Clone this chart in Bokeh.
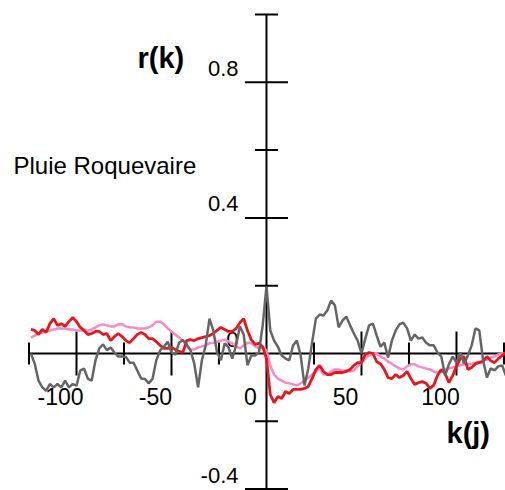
import numpy as np
from bokeh.plotting import figure
from bokeh.models import Range1d, Label
from bokeh.core.properties import value
from bokeh.embed import file_html
from bokeh.resources import INLINE

# ---- data ----
lags = list(range(-124, 127, 2))

gray_r = [0.00, -0.03, -0.08, -0.10, -0.11, -0.09, -0.10, -0.09, -0.10, -0.08,
          -0.10, -0.09, -0.095, -0.05, -0.045, -0.075, -0.08, -0.02, 0.015, 0.027,
          0.01, 0.018, 0.003, -0.009, -0.009, -0.01, -0.027, -0.027, -0.05, -0.074,
          -0.075, -0.088, -0.075, -0.02, 0.009, 0.02, 0.035, 0.003, -0.003, 0.032,
          0.04, 0.027, 0.009, -0.03, -0.10, -0.02, 0.024, 0.103, 0.068, 0.003,
          -0.02, 0.03, 0.018, -0.015, 0.024, 0.08, 0.056, -0.035, -0.006, -0.006,
          0.003, 0.083, 0.198, 0.068, 0.038, 0.02, -0.006, -0.015, -0.02, 0.024,
          0.038, -0.006, -0.094, -0.044, 0.032, 0.103, 0.115, 0.112, 0.127, 0.156,
          0.142, 0.077, 0.097, 0.109, 0.083, 0.059, 0.038, 0.00, 0.044, 0.083,
          0.088, 0.053, 0.02, 0.032, -0.012, 0.038, 0.068, 0.086, 0.091, 0.074,
          0.038, 0.056, 0.044, 0.047, 0.032, 0.024, 0.024, 0.003, -0.009, -0.065,
          -0.032, -0.009, -0.027, 0.003, -0.03, -0.006, 0.024, 0.074, 0.068, -0.02,
          -0.071, -0.044, -0.05, -0.038, -0.035, -0.065]

red_r = [0.071, 0.068, 0.056, 0.071, 0.062, 0.088, 0.103, 0.083, 0.088, 0.08,
         0.094, 0.106, 0.094, 0.077, 0.068, 0.056, 0.059, 0.065, 0.065, 0.056,
         0.059, 0.038, 0.05, 0.059, 0.05, 0.038, 0.032, 0.044, 0.056, 0.062,
         0.056, 0.044, 0.044, 0.035, 0.024, 0.015, 0.015, 0.018, 0.012, 0.006,
         0.003, 0.038, 0.041, 0.038, 0.044, 0.047, 0.05, 0.053, 0.059, 0.068,
         0.077, 0.071, 0.065, 0.065, 0.074, 0.091, 0.103, 0.068, 0.041, 0.027,
         0.03, 0.02, -0.015, -0.121, -0.145, -0.127, -0.133, -0.112, -0.118, -0.106,
         -0.106, -0.106, -0.103, -0.097, -0.074, -0.047, -0.035, -0.053, -0.062, -0.062,
         -0.056, -0.056, -0.056, -0.053, -0.047, -0.035, -0.027, -0.027, -0.003, 0.003,
         0.0, -0.024, -0.03, -0.047, -0.071, -0.074, -0.062, -0.071, -0.065, -0.053,
         -0.074, -0.091, -0.086, -0.083, -0.088, -0.103, -0.094, -0.065, -0.047, -0.059,
         -0.086, -0.065, -0.038, -0.015, -0.009, -0.047, -0.041, -0.03, -0.027, -0.024,
         -0.009, -0.021, -0.027, -0.015, -0.006, 0.003]

pink_r = [0.047, 0.053, 0.059, 0.062, 0.065, 0.068, 0.071, 0.074, 0.074, 0.074,
          0.071, 0.071, 0.068, 0.068, 0.068, 0.068, 0.071, 0.077, 0.083, 0.086,
          0.083, 0.08, 0.08, 0.086, 0.086, 0.08, 0.077, 0.077, 0.074, 0.074,
          0.074, 0.077, 0.083, 0.094, 0.094, 0.086, 0.074, 0.065, 0.056, 0.047,
          0.038, 0.021, 0.012, 0.012, 0.018, 0.021, 0.024, 0.03, 0.032, 0.035,
          0.038, 0.041, 0.035, 0.03, 0.021, 0.015, 0.024, 0.032, 0.03, 0.021,
          0.015, 0.018, 0.009, -0.035, -0.062, -0.074, -0.08, -0.086, -0.088, -0.091,
          -0.094, -0.088, -0.08, -0.071, -0.062, -0.053, -0.044, -0.062, -0.062, -0.053,
          -0.047, -0.047, -0.05, -0.05, -0.053, -0.05, -0.038, -0.027, -0.015, -0.006,
          0.0, 0.0, -0.009, -0.015, -0.024, -0.03, -0.038, -0.044, -0.047, -0.038,
          -0.032, -0.032, -0.038, -0.041, -0.044, -0.047, -0.053, -0.056, -0.053, -0.047,
          -0.044, -0.041, -0.038, -0.035, -0.032, -0.032, -0.03, -0.027, -0.024, -0.021,
          -0.018, -0.012, -0.009, -0.003, 0.0, 0.0]

x_major_ticks = [-100, -50, 50, 100]
x_minor_ticks = [-125, -75, -25, 25, 75, 125]
x_tick_labels = [-100, -50, 0, 50, 100]
y_major_ticks = [0.8, 0.4, -0.4]
y_minor_ticks = [1.0, 0.6, 0.2, -0.2]
y_tick_labels = [0.8, 0.4, 0, -0.4]

FONT = "Liberation Sans"

# pixel mapping of the reference: x = 266 + 1.9*lag, y = 353 - 339*r
p = figure(width=505, height=490, output_backend="svg", toolbar_location=None,
           x_range=Range1d(-140.0, 125.8), y_range=Range1d(-0.4041, 1.0413),
           x_axis_type=None, y_axis_type=None, min_border=0)
p.outline_line_color = None
p.xgrid.visible = False
p.ygrid.visible = False
p.background_fill_color = "white"

# axes through the origin
p.segment(x0=[min(x_minor_ticks)], y0=[0], x1=[p.x_range.end], y1=[0],
          line_color="black", line_width=2)
p.segment(x0=[0], y0=[min(y_major_ticks)], x1=[0], y1=[max(y_minor_ticks)],
          line_color="black", line_width=2)

# ticks
p.scatter(x=x_major_ticks, y=[0] * len(x_major_ticks), marker="dash", size=44,
          angle=np.pi / 2, line_color="black", line_width=2)
p.scatter(x=x_minor_ticks, y=[0] * len(x_minor_ticks), marker="dash", size=22,
          angle=np.pi / 2, line_color="black", line_width=2)
p.scatter(x=[0] * len(y_major_ticks), y=y_major_ticks, marker="dash", size=43,
          line_color="black", line_width=2)
p.scatter(x=[0] * len(y_minor_ticks), y=y_minor_ticks, marker="dash", size=23,
          line_color="black", line_width=2)

# tick labels
p.text(x=[0] * len(y_tick_labels), y=y_tick_labels,
       text=[("%g" % v) for v in y_tick_labels],
       x_offset=-28, y_offset=-14, text_align="right", text_baseline="middle",
       text_font=value(FONT), text_font_size="22px", text_color="black")
p.text(x=x_tick_labels, y=[0] * len(x_tick_labels),
       text=[str(v) for v in x_tick_labels],
       x_offset=-16, y_offset=43, text_align="center", text_baseline="middle",
       text_font=value(FONT), text_font_size="23px", text_color="black")

# series
p.line(lags, pink_r, line_color="#f48cc2", line_width=2.5)
p.line(lags, red_r, line_color="#e8161c", line_width=2.8)
p.line(lags, gray_r, line_color="#656565", line_width=2.5)

# titles
p.add_layout(Label(x=137, y=433, x_units="screen", y_units="screen", text="r(k)",
                   text_font=FONT, text_font_size="29px", text_font_style="bold",
                   text_baseline="alphabetic", text_color="black"))
p.add_layout(Label(x=446, y=58, x_units="screen", y_units="screen", text="k(j)",
                   text_font=FONT, text_font_size="29px", text_font_style="bold",
                   text_baseline="alphabetic", text_color="black"))
p.add_layout(Label(x=13, y=325, x_units="screen", y_units="screen",
                   text="Pluie Roquevaire", text_font=FONT, text_font_size="24px",
                   text_baseline="middle", text_color="black"))

open("out.html", "w").write(file_html(p, INLINE))
